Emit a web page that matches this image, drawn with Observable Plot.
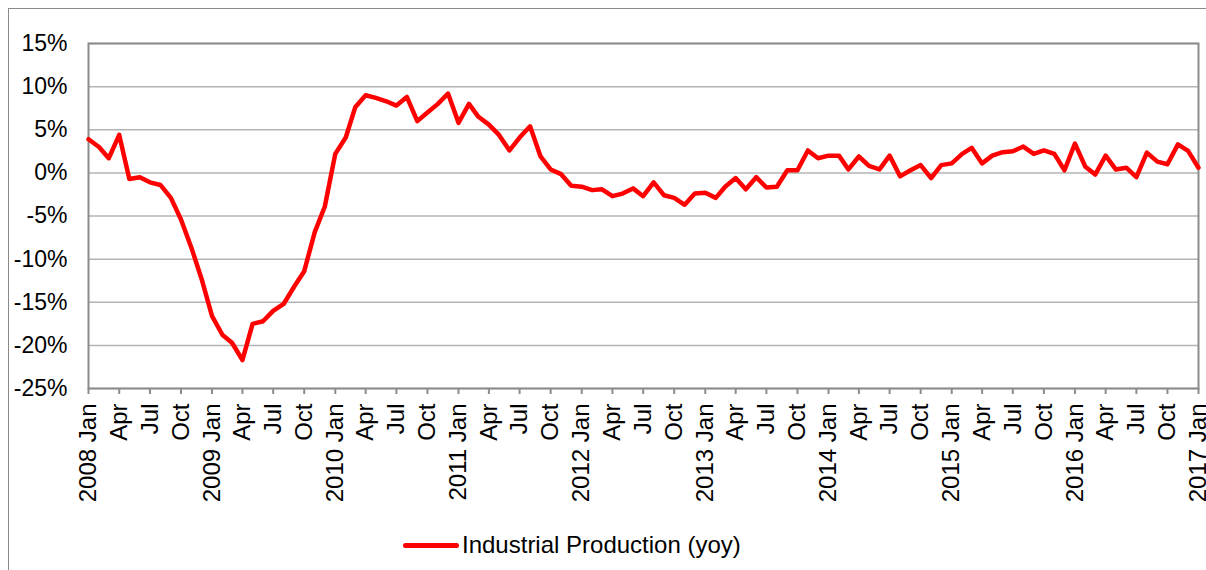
<!DOCTYPE html>
<html>
<head>
<meta charset="utf-8">
<script src="https://cdn.jsdelivr.net/npm/d3@7"></script>
<script src="https://cdn.jsdelivr.net/npm/@observablehq/plot@0.6"></script>
<style>
  body { margin: 0; background: #fff; font-family: "Liberation Sans", Arial, sans-serif; }
  #box { position: absolute; left: 8px; top: 8px; width: 1400px; height: 800px;
         border-left: 1px solid #8a8a8a; border-top: 1px solid #8a8a8a; }
  #vis { position: absolute; left: 0; top: 0; }
  #legend { position: absolute; left: 403px; top: 530px; height: 30px; display: flex; align-items: center;
            font-size: 24px; color: #000; white-space: nowrap; }
  #legend .swatch { display: inline-block; width: 56px; height: 5px; background: #ff0000; border-radius: 3px; margin-right: 3px; }
</style>
</head>
<body>
<div id="box"></div>
<div id="vis"></div>
<div id="legend"><span class="swatch"></span>Industrial Production (yoy)</div>
<script>
// monthly series, Jan 2008 .. Jan 2017
const firstMonth = '2008-01-01'
const lastMonth = '2017-01-01'
const values = [
  3.9, 3.0, 1.7, 4.4, -0.7, -0.5, -1.1, -1.4, -2.9, -5.4, -8.7, -12.3,          // 2008
  -16.6, -18.8, -19.7, -21.7, -17.5, -17.2, -16.0, -15.2, -13.2, -11.4, -6.9, -3.9, // 2009
  2.2, 4.1, 7.6, 9.0, 8.7, 8.3, 7.8, 8.8, 6.0, 7.0, 8.0, 9.2,                   // 2010
  5.8, 8.0, 6.5, 5.6, 4.4, 2.6, 4.1, 5.4, 1.9, 0.4, -0.15, -1.5,                // 2011
  -1.6, -2.0, -1.9, -2.7, -2.4, -1.8, -2.7, -1.1, -2.6, -2.9, -3.7, -2.4,       // 2012
  -2.3, -2.9, -1.6, -0.6, -1.9, -0.5, -1.7, -1.6, 0.3, 0.3, 2.6, 1.7,           // 2013
  2.0, 2.0, 0.4, 1.9, 0.8, 0.4, 2.0, -0.4, 0.3, 0.9, -0.6, 0.9,                 // 2014
  1.1, 2.2, 2.9, 1.1, 2.0, 2.4, 2.5, 3.05, 2.2, 2.6, 2.2, 0.3,                  // 2015
  3.4, 0.7, -0.2, 2.0, 0.4, 0.6, -0.5, 2.35, 1.3, 1.0, 3.3, 2.55,               // 2016
  0.6                                                                          // 2017
]
const monthNames = ['Jan', 'Feb', 'Mar', 'Apr', 'May', 'Jun', 'Jul', 'Aug', 'Sep', 'Oct', 'Nov', 'Dec']
const yTicks = [-25, -20, -15, -10, -5, 0, 5, 10, 15]

const start = new Date(firstMonth)
const end = new Date(lastMonth)
const months = d3.utcMonth.range(start, d3.utcMonth.offset(end, 1))
const data = months.map((d, i) => ({date: d, value: values[i]}))
const xTicks = d3.utcMonth.every(3).range(start, d3.utcMonth.offset(end, 1))

const fmtX = d => d.getUTCMonth() === 0
  ? `${d.getUTCFullYear()} Jan`
  : monthNames[d.getUTCMonth()]

let chart = Plot.plot({
  width: 1206,
  height: 520,
  marginLeft: 88,
  marginRight: 8,
  marginTop: 43,
  marginBottom: 132,
  x: {type: 'utc', domain: [start, end]},
  y: {domain: [-25, 15]},
  style: {
    fontFamily: '"Liberation Sans", Arial, sans-serif',
    fontSize: '23px',
    color: '#000',
    background: 'transparent'
  },
  marks: [
    Plot.gridY(yTicks, {stroke: '#b4b4b4', strokeOpacity: 1, strokeWidth: 1.5}),
    Plot.frame({stroke: '#8c8c8c', strokeWidth: 2}),
    Plot.axisY(yTicks, {tickFormat: d => d + '%', tickSize: 0, tickPadding: 21, label: null, fill: '#000'}),
    Plot.axisX(xTicks, {tickFormat: fmtX, tickRotate: -90, tickSize: 6, tickPadding: 9, label: null,
      stroke: '#8c8c8c', strokeWidth: 2, fill: '#000', fontSize: 24}),
    Plot.lineY(data, {x: 'date', y: 'value', stroke: '#ff0000', strokeWidth: 4.5,
      strokeLinejoin: 'round', strokeLinecap: 'round'})
  ]
})
d3.select('#vis').append(() => chart)
</script>
</body>
</html>
